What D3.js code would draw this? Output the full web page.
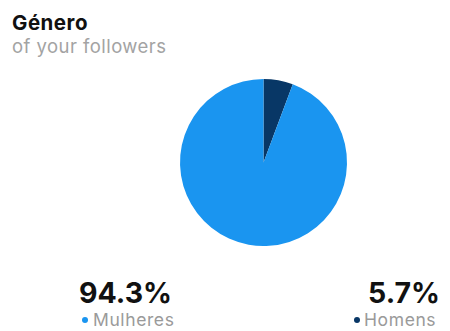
<!DOCTYPE html>
<html>
<head>
<meta charset="utf-8">
<script src="https://cdn.jsdelivr.net/npm/d3@7"></script>
<style>
  html, body { margin: 0; padding: 0; background: #ffffff; }
  svg { display: block; }
  text { font-family: Inter, "Noto Sans", sans-serif; }
</style>
</head>
<body>
<svg id="chart" width="450" height="331"></svg>
<script>
// Follower gender split
const categories = ["Homens", "Mulheres"];
const shares = [5.7, 94.3];
const colors = ["#083766", "#1a95f0"];
const title = "Género";
const subtitle = "of your followers";

const svg = d3.select("#chart");
const W = 450, H = 331;
svg.append("rect").attr("width", W).attr("height", H).attr("fill", "#ffffff");

// Header
svg.append("text")
  .attr("x", 12).attr("y", 30)
  .attr("font-size", 20.5).attr("font-weight", 700)
  .attr("letter-spacing", 0.5)
  .attr("fill", "#111111")
  .text(title);
svg.append("text")
  .attr("x", 12).attr("y", 53)
  .attr("font-size", 18.5).attr("font-weight", 400)
  .attr("letter-spacing", 0.45)
  .attr("fill", "#a3a3a3")
  .text(subtitle);

// Pie, starting at 12 o'clock and running clockwise
const color = d3.scaleOrdinal().domain(categories).range(colors);
const pie = d3.pie().sort(null).value(d => d.value);
const data = categories.map((c, i) => ({ name: c, value: shares[i] }));
const arc = d3.arc().innerRadius(0).outerRadius(83.5);

svg.append("g")
  .attr("transform", "translate(263.5,162.5)")
  .selectAll("path")
  .data(pie(data))
  .join("path")
  .attr("d", arc)
  .attr("fill", d => color(d.data.name));

// Legend blocks: value on top, dot + label underneath
const fmt = d => d3.format(".1f")(d) + "%";
const legend = [
  { name: "Mulheres", value: shares[1], x: 79, anchor: "start", dotX: 85, labelX: 93 },
  { name: "Homens", value: shares[0], x: 440, anchor: "end", dotX: 357, labelX: 364 }
];

const g = svg.append("g");
legend.forEach(l => {
  g.append("text")
    .attr("x", l.x).attr("y", 302.5)
    .attr("text-anchor", l.anchor)
    .attr("font-size", 28.5).attr("font-weight", 700)
    .attr("fill", "#111111")
    .text(fmt(l.value));
  g.append("circle")
    .attr("cx", l.dotX).attr("cy", 320).attr("r", 3)
    .attr("fill", color(l.name));
  g.append("text")
    .attr("x", l.labelX).attr("y", 326)
    .attr("font-size", 17.5)
    .attr("letter-spacing", 0.6)
    .attr("fill", "#9a9a9a")
    .text(l.name);
});
</script>
</body>
</html>
